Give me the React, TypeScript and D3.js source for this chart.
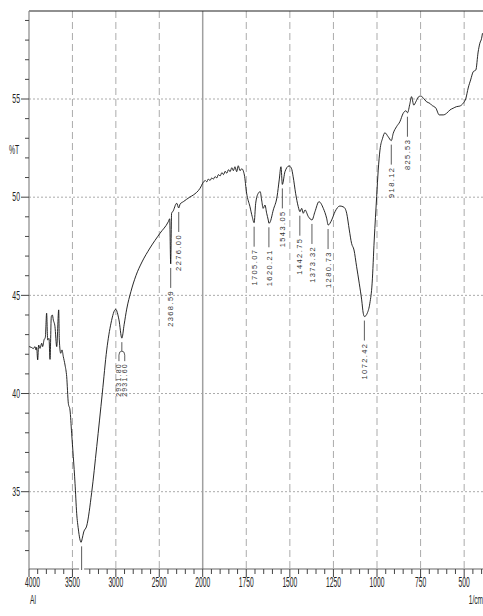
import React from 'react';
import * as d3 from 'd3';

const wavenumbers = [4000,3996,3969,3950,3931,3919,3912,3900,3889,3873,3854,3843,3827,3812,3797,3785,3770,3758,3743,3731,3720,3701,3681,3658,3651,3635,3620,3605,3585,3566,3547,3528,3509,3490,3470,3451,3432,3415,3400,3388,3370,3336,3278,3220,3156,3105,3056,3002,2964,2931,2905,2875,2826,2769,2699,2607,2492,2396,2380,2368.5,2358,2345,2299,2276,2260,2223,2150,2108,2031,1997,1985,1977,1968,1958,1948,1939,1929,1919,1910,1900,1890,1881,1871,1862,1852,1843,1833,1824,1815,1805,1796,1786,1776,1761,1748,1729,1716,1705,1696,1681,1670,1662,1653,1643,1633,1624,1620,1614,1595,1573,1561,1551,1543,1528,1505,1491,1481,1467,1452,1442,1432,1423,1413,1394,1373,1356,1333,1308,1289,1280,1260,1241,1213,1190,1174,1159,1146,1132,1117,1102,1088,1079,1072,1056,1041,1028,1016,1002,993,983,968,955,936,918,907,888,869,850,834,825,811,802,789,777,764,750,725,716,697,687,662,643,620,601,582,563,544,525,506,490,477,463,448,433,420,410,400,395];

const transmittance = [42.4,42.39,42.34,42.29,42.39,42.22,42.35,41.71,42.47,42.30,42.56,42.39,42.73,42.86,44.09,42.73,42.81,41.74,43.92,44.00,43.75,43.41,42.39,44.26,42.73,42.05,42.22,41.88,41.45,40.86,39.50,39.16,37.98,36.79,35.43,33.90,33.10,32.60,32.42,32.60,32.95,33.25,34.97,37.30,40.02,42.22,43.58,44.29,43.75,42.82,43.50,44.30,45.20,46.00,46.70,47.41,48.16,48.75,48.90,46.60,49.20,49.26,49.69,49.45,49.65,49.77,50.00,50.11,50.45,50.75,50.85,50.78,50.92,50.85,50.98,50.92,51.05,50.98,51.15,51.08,51.25,51.15,51.32,51.22,51.40,51.30,51.50,51.35,51.55,51.30,51.60,51.35,51.45,51.13,50.20,49.52,49.01,48.70,49.69,50.20,50.28,49.86,49.43,49.60,49.18,48.84,48.67,48.72,49.35,50.05,50.88,51.55,50.65,51.30,51.59,51.47,51.04,50.20,49.52,49.26,49.43,49.18,49.35,49.01,48.84,49.26,49.77,49.43,48.93,48.58,48.84,49.26,49.55,49.49,49.18,48.33,47.65,47.31,46.46,45.62,44.77,44.09,43.92,44.09,44.60,45.62,47.82,50.03,51.38,52.40,53.00,53.28,53.08,52.88,53.25,53.59,53.84,54.27,54.40,54.30,54.78,55.12,54.69,54.86,55.09,55.15,54.95,54.86,54.78,54.69,54.53,54.19,54.19,54.27,54.44,54.53,54.61,54.64,54.78,55.04,55.56,55.97,56.39,56.48,57.39,57.84,58.09,58.35];

const xTickValues = [4000, 3500, 3000, 2500, 2000, 1750, 1500, 1250, 1000, 750, 500];
const yTickValues = [35, 40, 45, 50, 55];
const peakLabels = ['2368.59', '2276.00', '1705.07', '1620.21', '1543.05', '1442.75', '1373.32', '1280.73', '1072.42', '918.12', '825.53'];
const pairLabels = ['2931.80', '2931.60'];
const unlabeledPeak = 3400;

const W = 483;
const H = 616;
const left = 29;
const top = 11;
const bottom = 569;
const xBreak = 202.7;
const xRight = 481.6;

export default function App() {
  const x = d3.scaleLinear().domain([4000, 2000, 400]).range([left, xBreak, xRight]);
  const y = d3.scaleLinear().domain([55, 35]).range([99, 491.7]);
  const yMin = y.invert(bottom);
  const yMax = y.invert(top);

  const data: [number, number][] = wavenumbers.map((w, i) => [w, transmittance[i]]);
  const line = d3.line<[number, number]>()
    .x(d => x(d[0]))
    .y(d => y(d[1]))
    .curve(d3.curveMonotoneX);

  const valueAt = (w: number) => {
    let best = 0;
    let bd = Infinity;
    data.forEach((d, i) => {
      const dd = Math.abs(d[0] - w);
      if (dd < bd) { bd = dd; best = i; }
    });
    return data[best][1];
  };

  const minorX: number[] = [];
  for (let w = 4000; w > 2000; w -= 100) minorX.push(w);
  for (let w = 2000; w >= 400; w -= 50) minorX.push(w);
  const minorY: number[] = [];
  for (let v = Math.ceil(yMin); v <= Math.floor(yMax); v++) minorY.push(v);

  const gridColor = '#ababab';
  const labelFont = 'Liberation Sans, Arial, sans-serif';

  const pairW = 2931;
  const pairX = x(pairW);
  const pairTop = y(valueAt(pairW)) + 4;
  const pd = 2.9;

  return (
    <svg width={W} height={H} style={{ position: 'absolute', left: 0, top: 0, background: '#fff' }}>
      <rect x={0} y={0} width={W} height={H} fill="#fff" />
      {yTickValues.map(v => (
        <line key={'hg' + v} x1={left} x2={W} y1={y(v)} y2={y(v)} stroke={gridColor} strokeWidth={1} strokeDasharray="2,2" />
      ))}
      {xTickValues.filter(w => w !== 4000).map(w => (
        w === 2000 ? (
          <line key={'vg' + w} x1={x(w)} x2={x(w)} y1={top} y2={bottom} stroke="#a0a0a0" strokeWidth={1.5} />
        ) : (
          <line key={'vg' + w} x1={x(w)} x2={x(w)} y1={top} y2={bottom} stroke={gridColor} strokeWidth={1} strokeDasharray="7,4" />
        )
      ))}
      <line x1={left} x2={W} y1={top} y2={top} stroke="#222" strokeWidth={1.2} />
      <line x1={left} x2={left} y1={top} y2={bottom} stroke="#888" strokeWidth={1.2} />
      <line x1={left} x2={W} y1={bottom} y2={bottom} stroke="#666" strokeWidth={1.2} />

      {minorY.map(v => (
        <line key={'yt' + v} x1={yTickValues.includes(v) ? left - 8 : left - 4} x2={left} y1={y(v)} y2={y(v)} stroke="#444" strokeWidth={1} />
      ))}
      {yTickValues.map(v => (
        <text key={'yl' + v} transform={`translate(20,${y(v) + 4.3}) scale(0.55,1)`} textAnchor="end" fontSize={12.5} fontFamily={labelFont} fill="#222">{v}</text>
      ))}
      <text transform={`translate(9,${153.5}) scale(0.55,1)`} fontSize={12.5} fontFamily={labelFont} fill="#222">%T</text>

      {minorX.map(w => (
        <line key={'xt' + w} x1={x(w)} x2={x(w)} y1={bottom} y2={bottom + (xTickValues.includes(w) ? 8 : 5)} stroke="#444" strokeWidth={1} />
      ))}
      {xTickValues.map(w => (
        <text key={'xl' + w} transform={`translate(${x(w) + (w === 4000 ? 3.5 : 0)},${587}) scale(0.48,1)`} textAnchor="middle" fontSize={14} fontFamily={labelFont} fill="#222">{w}</text>
      ))}
      <text transform={`translate(30,${603.5}) scale(0.55,1)`} fontSize={12} fontFamily={labelFont} fill="#222">Al</text>
      <text transform={`translate(483,${603.5}) scale(0.55,1)`} textAnchor="end" fontSize={12} fontFamily={labelFont} fill="#222">1/cm</text>

      <path d={line(data) || ''} fill="none" stroke="#111" strokeWidth={0.9} />

      <rect x={x(unlabeledPeak) - 2} y={bottom - 2} width={5} height={12} fill="#fff" />
      <line x1={x(unlabeledPeak) + 0.5} x2={x(unlabeledPeak) + 0.5} y1={y(valueAt(unlabeledPeak)) + 4} y2={bottom + 1} stroke="#333" strokeWidth={0.8} />

      {peakLabels.map(lbl => {
        const w = parseFloat(lbl);
        const px = x(w);
        const y0 = y(valueAt(w)) + 4;
        const y1 = y0 + 20;
        return (
          <g key={lbl}>
            <line x1={px} x2={px} y1={y0} y2={y1} stroke="#333" strokeWidth={0.8} />
            <text transform={`translate(${px},${y1 + 2}) rotate(-90)`} textAnchor="end" dy="0.35em" fontSize={7.5} letterSpacing={1.4} fontFamily={labelFont} fill="#333">{lbl}</text>
          </g>
        );
      })}
      <path d={`M${pairX},${pairTop} L${pairX},${pairTop + 9} M${pairX - pd},${pairTop + 19} L${pairX - pd},${pairTop + 13} Q${pairX - pd},${pairTop + 9} ${pairX},${pairTop + 9} Q${pairX + pd},${pairTop + 9} ${pairX + pd},${pairTop + 13} L${pairX + pd},${pairTop + 19}`} fill="none" stroke="#333" strokeWidth={0.8} />
      {pairLabels.map((lbl, i) => (
        <text key={lbl} transform={`translate(${pairX + (i === 0 ? -pd : pd)},${pairTop + 21}) rotate(-90)`} textAnchor="end" dy="0.35em" fontSize={7} letterSpacing={1.2} fontFamily={labelFont} fill="#333">{lbl}</text>
      ))}
    </svg>
  );
}
